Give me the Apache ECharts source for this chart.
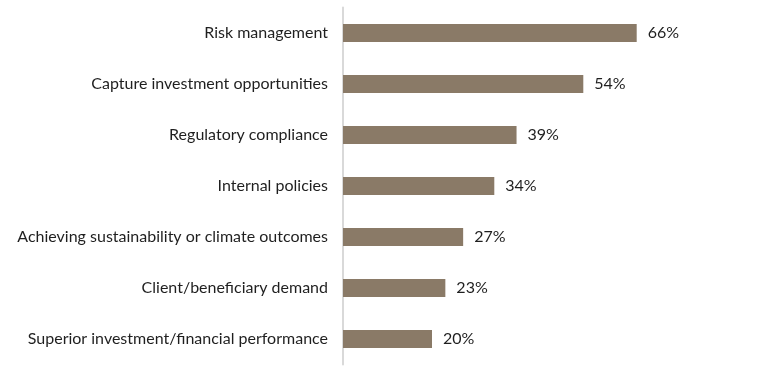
<!DOCTYPE html>
<html><head><meta charset="utf-8">
<script src="https://cdn.jsdelivr.net/npm/echarts@6/dist/echarts.min.js"></script>
<style>html,body{margin:0;padding:0;background:#fff}#c{width:780px;height:381px}</style>
</head><body><div id="c"></div>
<script>
var categories = ["Risk management","Capture investment opportunities","Regulatory compliance","Internal policies","Achieving sustainability or climate outcomes","Client/beneficiary demand","Superior investment/financial performance"];
var values = [66,54,39,34,27,23,20];
var chart = echarts.init(document.getElementById('c'));
chart.setOption({
  animation:false,
  grid:{left:343,top:7.5,width:356,height:357,containLabel:false},
  xAxis:{type:'value',min:0,max:80,show:false},
  yAxis:{type:'category',inverse:true,data:categories,
    axisLine:{show:true,lineStyle:{color:'#d9d9d9',width:2}},
    axisTick:{show:false},
    axisLabel:{margin:15,color:'#1f1f1f',fontSize:16,fontFamily:'Lato, sans-serif'}},
  series:[{type:'bar',data:values,barWidth:18,itemStyle:{color:'#8a7a67'},
    label:{show:true,position:'right',distance:11,formatter:'{c}%',color:'#1f1f1f',fontSize:16,fontFamily:'Lato, sans-serif'}}]
});
</script></body></html>
